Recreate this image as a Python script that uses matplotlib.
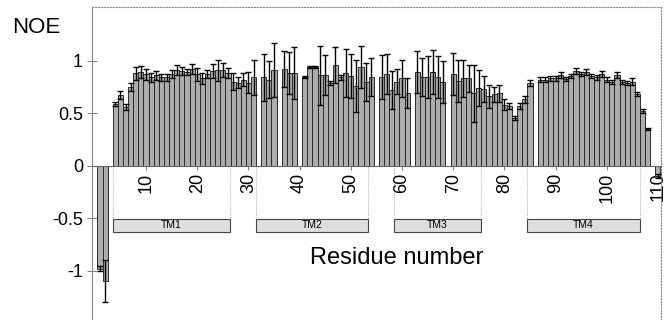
import matplotlib
matplotlib.use('Agg')
import matplotlib.pyplot as plt

plt.rcParams['font.family'] = ['Liberation Sans', 'DejaVu Sans']

# NOE per residue (gaps = residues without data)
residues = [1, 2,
            4, 5, 6, 7, 8, 9, 10, 11, 12, 13, 14, 15, 16, 17, 18, 19, 20,
            21, 22, 23, 24, 25, 26, 27, 28, 29, 30, 31,
            33, 34, 35, 37, 38, 39,
            41, 42, 43, 44, 45, 46, 47, 48, 49, 50, 51, 52, 53, 54,
            56, 57, 58, 59, 60, 61,
            63, 64, 65, 66, 67, 68,
            70, 71, 72, 73, 74, 75, 76, 77, 78, 79, 80, 81, 82, 83, 84, 85,
            87, 88, 89, 90, 91, 92, 93, 94, 95, 96, 97, 98, 99, 100,
            101, 102, 103, 104, 105, 106, 107, 108,
            110]
noe = [-0.98, -1.10,
       0.59, 0.67, 0.56, 0.75, 0.88, 0.89, 0.87, 0.84, 0.86, 0.84, 0.84, 0.87, 0.91, 0.90, 0.89, 0.92, 0.87,
       0.83, 0.87, 0.90, 0.91, 0.91, 0.88, 0.80, 0.79, 0.82, 0.79, 0.84,
       0.84, 0.82, 0.91, 0.92, 0.88, 0.88,
       0.84, 0.94, 0.94, 0.86, 0.86, 0.79, 0.96, 0.84, 0.88, 0.85, 0.76, 0.94, 0.80, 0.84,
       0.84, 0.87, 0.72, 0.80, 0.83, 0.69,
       0.89, 0.84, 0.84, 0.89, 0.84, 0.80,
       0.87, 0.81, 0.83, 0.83, 0.69, 0.74, 0.73, 0.66, 0.68, 0.69, 0.58, 0.565, 0.45, 0.57, 0.63, 0.79,
       0.82, 0.82, 0.83, 0.83, 0.86, 0.825, 0.85, 0.90, 0.87, 0.89, 0.85, 0.84, 0.87, 0.82,
       0.80, 0.86, 0.80, 0.79, 0.80, 0.68, 0.52, 0.35,
       -0.10]
err = [0.02, 0.20,
       0.02, 0.04, 0.03, 0.04, 0.06, 0.06, 0.05, 0.04, 0.04, 0.03, 0.03, 0.04, 0.05, 0.04, 0.03, 0.05, 0.06,
       0.05, 0.04, 0.07, 0.10, 0.07, 0.05, 0.08, 0.05, 0.06, 0.10, 0.17,
       0.22, 0.18, 0.26, 0.17, 0.20, 0.25,
       0.01, 0.01, 0.01, 0.28, 0.19, 0.02, 0.17, 0.02, 0.23, 0.21, 0.25, 0.20, 0.18, 0.18,
       0.21, 0.19, 0.18, 0.12, 0.18, 0.14,
       0.20, 0.18, 0.20, 0.21, 0.20, 0.20,
       0.20, 0.20, 0.18, 0.13, 0.27, 0.17, 0.12, 0.11, 0.07, 0.08, 0.05, 0.03, 0.02, 0.03, 0.03, 0.03,
       0.02, 0.02, 0.02, 0.02, 0.03, 0.02, 0.02, 0.03, 0.02, 0.03, 0.02, 0.02, 0.03, 0.02,
       0.02, 0.03, 0.02, 0.02, 0.03, 0.02, 0.02, 0.01,
       0.02]

# transmembrane segments
tm_names = ['TM1', 'TM2', 'TM3', 'TM4']
tm_start = [3.5, 31.5, 58.4, 84.4]
tm_end = [26.4, 53.4, 75.4, 106.5]

fig = plt.figure(figsize=(6.67, 3.2), dpi=100)
ax = fig.add_axes([0.138, 0.0, 0.853, 0.978])

ax.bar(residues, noe, width=1.0, color='#adadad', edgecolor='#2a2a2a', linewidth=0.7, zorder=2)
ax.errorbar(residues, noe, yerr=err, fmt='none', ecolor='black', elinewidth=1.0,
            capsize=2.2, capthick=1.0, zorder=3)

for name, s, e in zip(tm_names, tm_start, tm_end):
    ax.add_patch(plt.Rectangle((s, -0.63), e - s, 0.12, facecolor='#dedede',
                               edgecolor='#444444', linewidth=0.8, zorder=2))
    ax.text((s + e) / 2, -0.57, name, ha='center', va='center', fontsize=7.5, zorder=3)
    ax.plot([s, s], [0, -0.51], color='#888888', lw=0.6, ls=':', zorder=1)
    ax.plot([e, e], [0, -0.51], color='#888888', lw=0.6, ls=':', zorder=1)

ax.set_xlim(-0.55, 110.6)
ax.set_ylim(-1.47, 1.51)

ax.spines['bottom'].set_position(('data', 0))
ax.spines['bottom'].set_color('#666666')
ax.spines['bottom'].set_linewidth(0.8)
ax.spines['left'].set_color('#888888')
ax.spines['top'].set_color('#888888')
ax.spines['top'].set_linestyle(':')
ax.spines['right'].set_color('#888888')
ax.spines['right'].set_linestyle(':')

ax.set_xticks(range(10, 111, 10))
ax.set_xticklabels([str(v) for v in range(10, 111, 10)], rotation=90, fontsize=13)
ax.tick_params(axis='x', direction='out', length=3, width=0.6, color='#666666', pad=2)
ax.set_yticks([-1, -0.5, 0, 0.5, 1])
ax.set_yticklabels(['-1', '-0.5', '0', '0.5', '1'], fontsize=13)
ax.tick_params(axis='y', direction='inout', length=7, width=0.6, color='#666666', pad=3)

fig.text(0.594, 0.193, 'Residue number', ha='center', va='center', fontsize=17)
fig.text(0.018, 0.897, 'NOE', ha='left', va='baseline', fontsize=16)

fig.savefig('out.png', dpi=100)
